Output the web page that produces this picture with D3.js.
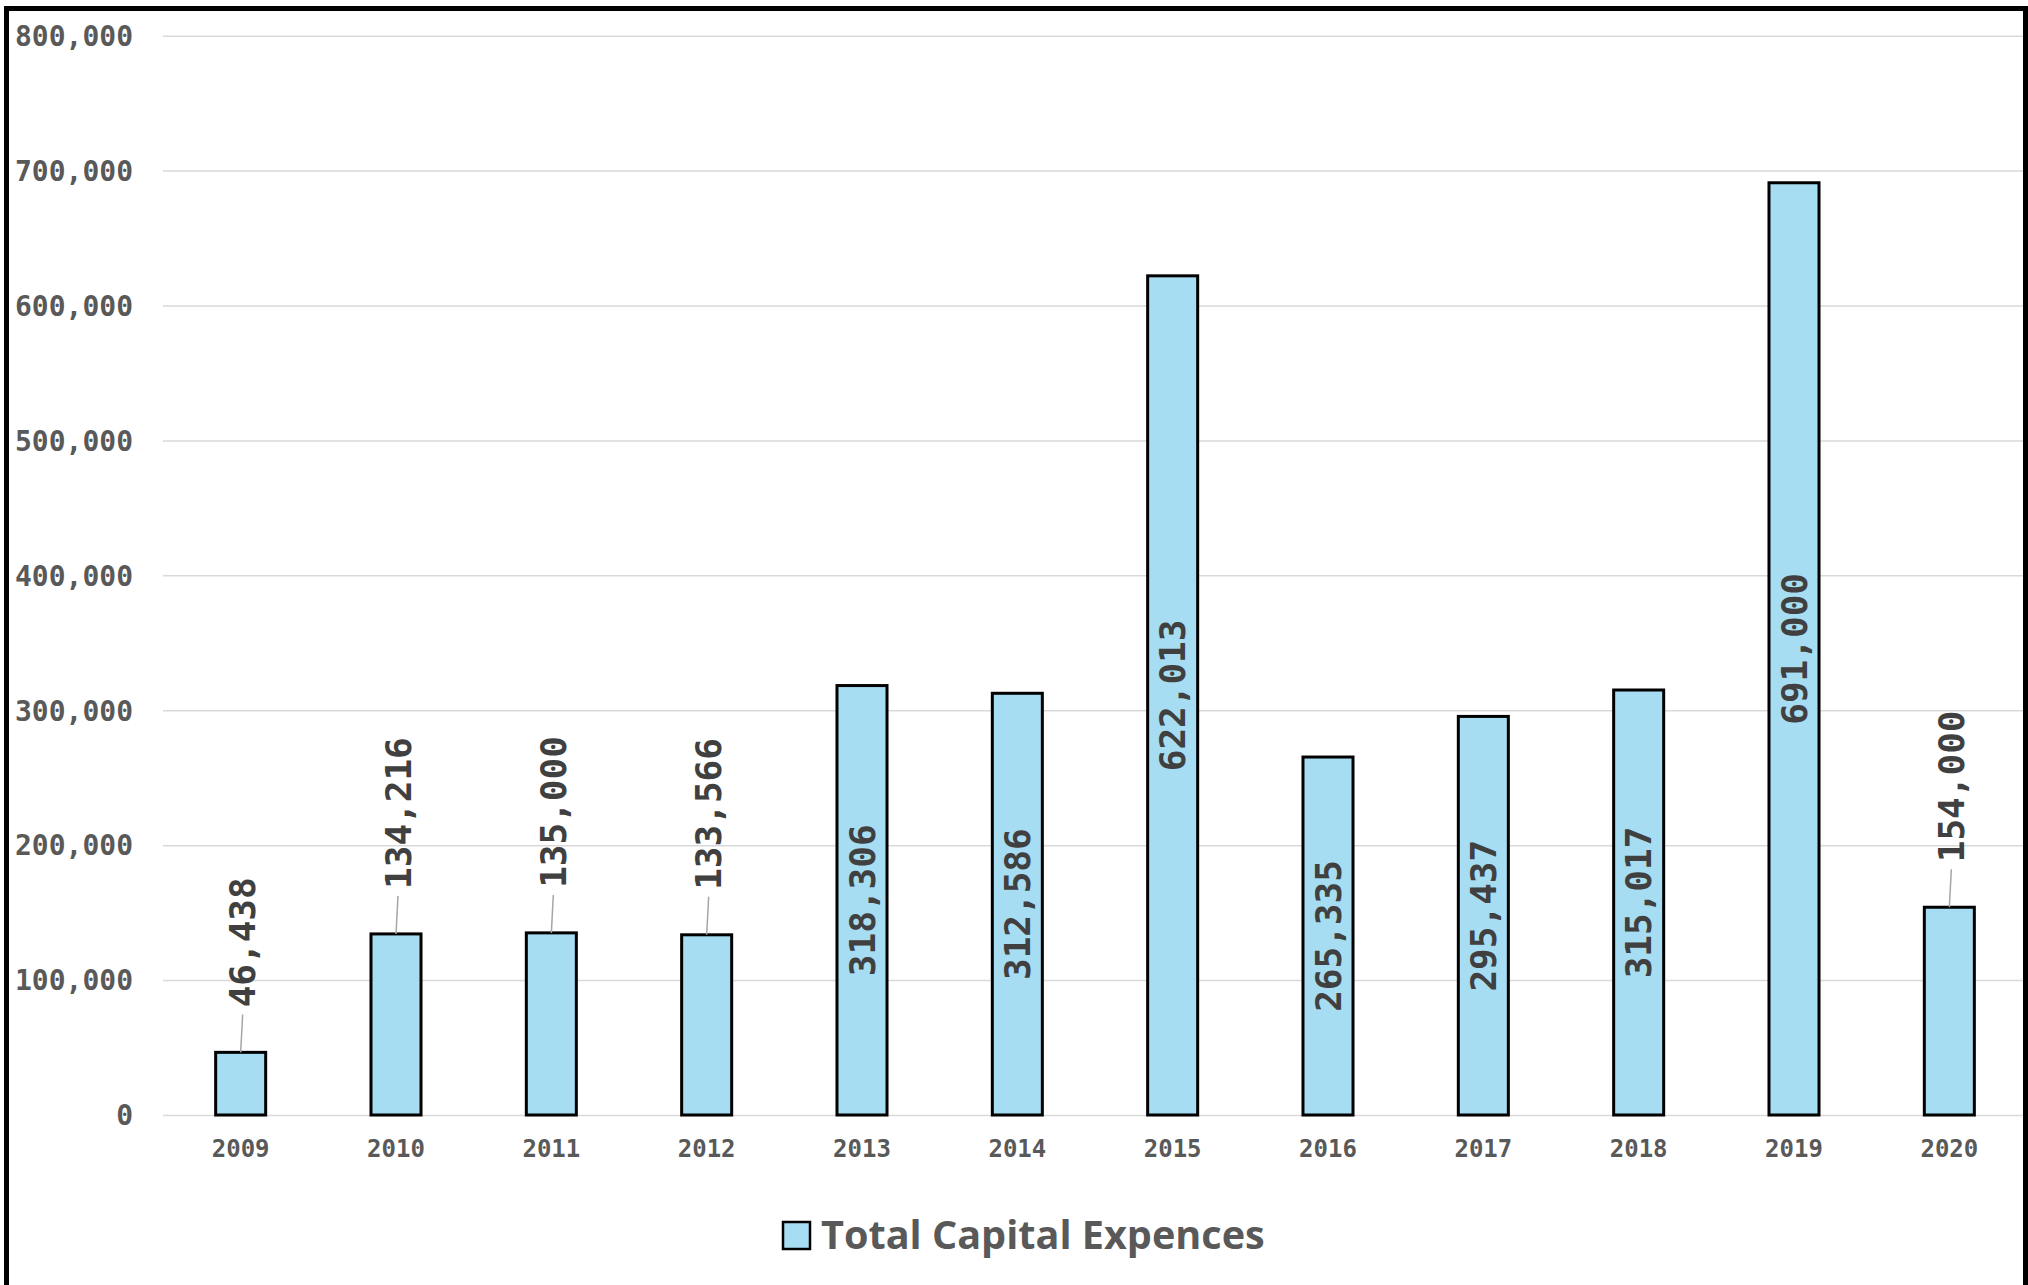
<!DOCTYPE html>
<html>
<head>
<meta charset="utf-8">
<script src="https://cdn.jsdelivr.net/npm/d3@7"></script>
<style>
  html, body { margin: 0; padding: 0; background: #fff; }
  svg { display: block; }
</style>
</head>
<body>
<script>
// ---- data ----
const years = ["2009","2010","2011","2012","2013","2014","2015","2016","2017","2018","2019","2020"];
const capex = [46438, 134216, 135000, 133566, 318306, 312586, 622013, 265335, 295437, 315017, 691000, 154000];
const yTicks = [0, 100000, 200000, 300000, 400000, 500000, 600000, 700000, 800000];
const seriesName = "Total Capital Expences";

// ---- layout ----
const W = 2028, H = 1285;
const plot = { left: 163, right: 2027, top: 35.7, bottom: 1115 };
const mono = "'DejaVu Sans Mono', 'Liberation Mono', monospace";

const svg = d3.select("body").append("svg").attr("width", W).attr("height", H);
svg.append("rect").attr("width", W).attr("height", H).attr("fill", "#fff");

const x = d3.scaleBand().domain(years).range([plot.left, plot.right]).paddingInner(0.678).paddingOuter(0.339);
const y = d3.scaleLinear().domain([0, 800000]).range([plot.bottom, plot.top]);

// y axis + gridlines
const yAxis = svg.append("g").attr("transform", `translate(${plot.left},0)`)
  .call(d3.axisLeft(y).tickValues(yTicks).tickFormat(d3.format(",")).tickSizeInner(-(2023 - plot.left)).tickSizeOuter(0).tickPadding(30));
yAxis.select(".domain").remove();
yAxis.selectAll(".tick line").attr("stroke", "#d9d9d9").attr("stroke-width", 1.5);
yAxis.selectAll(".tick text").attr("fill", "#595959").attr("font-family", mono)
  .attr("font-weight", "bold").attr("font-size", 28).attr("dy", "0.35em");

// x axis
const xAxis = svg.append("g").attr("transform", `translate(0,${plot.bottom})`)
  .call(d3.axisBottom(x).tickSize(0).tickPadding(0));
xAxis.select(".domain").remove();
xAxis.selectAll(".tick text").attr("fill", "#595959").attr("font-family", mono)
  .attr("font-weight", "bold").attr("font-size", 24).attr("y", 34).attr("dy", "0.35em");

// bars
const data = years.map((yr, i) => ({ year: yr, value: capex[i] }));
svg.append("g").selectAll("rect").data(data).join("rect")
  .attr("x", d => x(d.year))
  .attr("y", d => y(d.value))
  .attr("width", x.bandwidth())
  .attr("height", d => y(0) - y(d.value))
  .attr("fill", "#a6ddf3")
  .attr("stroke", "#000")
  .attr("stroke-width", 3);

// data labels
const fmt = d3.format(",");
const labels = svg.append("g");
data.forEach(d => {
  const cx = x(d.year) + x.bandwidth() / 2;
  const top = y(d.value);
  const h = y(0) - top;
  if (h > 280) {
    const cy = top + h / 2;
    labels.append("text")
      .attr("transform", `translate(${cx},${cy}) rotate(-90)`)
      .attr("text-anchor", "middle").attr("dy", "0.35em")
      .attr("font-family", mono).attr("font-weight", "bold").attr("font-size", 36)
      .attr("fill", "#404040").text(fmt(d.value));
  } else {
    labels.append("line")
      .attr("x1", cx).attr("y1", top).attr("x2", cx + 2).attr("y2", top - 38)
      .attr("stroke", "#a6a6a6").attr("stroke-width", 1.5);
    labels.append("text")
      .attr("transform", `translate(${cx + 2},${top - 45}) rotate(-90)`)
      .attr("text-anchor", "start").attr("dy", "0.35em")
      .attr("font-family", mono).attr("font-weight", "bold").attr("font-size", 36)
      .attr("fill", "#404040").text(fmt(d.value));
  }
});

// legend
const leg = svg.append("g");
leg.append("rect").attr("x", 783).attr("y", 1222).attr("width", 27).attr("height", 27)
  .attr("fill", "#a6ddf3").attr("stroke", "#000").attr("stroke-width", 2.5);
const lt = leg.append("text").attr("x", 821).attr("y", 1249)
  .attr("font-family", "'Open Sans', 'Noto Sans', sans-serif").attr("font-weight", "bold")
  .attr("font-size", 42).attr("fill", "#595959").text(seriesName);
const wMeasured = lt.node().getComputedTextLength();
lt.attr("font-size", Math.max(36, Math.min(48, 42 * 444 / wMeasured)));

// outer border
svg.append("rect").attr("x", 6.5).attr("y", 8.5).attr("width", 2019).attr("height", 1300)
  .attr("fill", "none").attr("stroke", "#000").attr("stroke-width", 5);
</script>
</body>
</html>
